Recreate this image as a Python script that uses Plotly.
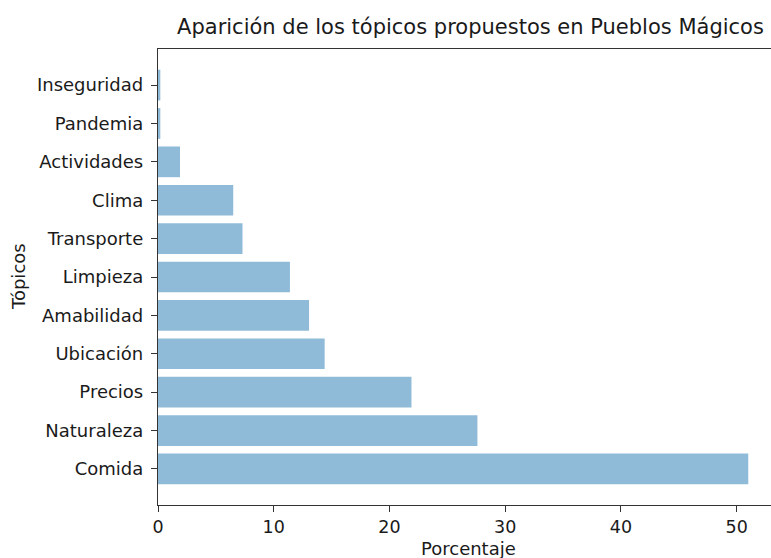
import plotly.graph_objects as go

topicos = ["Comida", "Naturaleza", "Precios", "Ubicación", "Amabilidad", "Limpieza",
           "Transporte", "Clima", "Actividades", "Pandemia", "Inseguridad"]
porcentaje = [51.0, 27.6, 21.9, 14.4, 13.05, 11.4, 7.3, 6.5, 1.9, 0.2, 0.2]
x_ticks = [0, 10, 20, 30, 40, 50]

W, H = 771, 558
L, R, T, B = 158, 0, 49, 53
FONT = "DejaVu Sans, Liberation Sans, sans-serif"

fig = go.Figure(go.Bar(
    x=porcentaje, y=topicos, orientation="h",
    marker=dict(color="rgba(31,119,180,0.5)", line=dict(width=0)),
    width=0.8,
))

fig.update_layout(
    width=W, height=H,
    margin=dict(l=L, r=R, t=T, b=B, pad=0),
    plot_bgcolor="white", paper_bgcolor="white",
    showlegend=False,
    font=dict(family=FONT, size=18, color="#1a1a1a"),
    title=dict(
        text="Aparición de los tópicos propuestos en Pueblos Mágicos",
        x=470.5 / W, xref="container", xanchor="center",
        y=1 - 27 / H, yref="container", yanchor="middle",
        font=dict(family=FONT, size=21, color="#1a1a1a"),
    ),
    xaxis=dict(
        range=[0, (W - L) / 11.574],
        tickmode="array", tickvals=x_ticks,
        ticks="outside", ticklen=6, tickwidth=1.2, tickcolor="#333",
        showline=True, linecolor="#333", linewidth=1.3, mirror=True,
        showgrid=False, zeroline=False,
        tickfont=dict(size=17.5),
    ),
    yaxis=dict(
        type="category",
        categoryorder="array", categoryarray=topicos,
        range=[-0.94, 10.94],
        ticks="outside", ticklen=6, tickwidth=1.2, tickcolor="#333",
        ticklabelstandoff=4,
        showline=True, linecolor="#333", linewidth=1.3,
        showgrid=False, zeroline=False,
        tickfont=dict(size=18),
    ),
    annotations=[
        dict(text="Porcentaje", xref="paper", yref="paper",
             x=(468 - L) / (W - L), y=(505 - 548) / (505 - 49),
             xanchor="center", yanchor="middle", showarrow=False,
             font=dict(size=18)),
        dict(text="Tópicos", xref="paper", yref="paper",
             x=(18 - L) / (W - L), y=0.5, textangle=-90,
             xanchor="center", yanchor="middle", showarrow=False,
             font=dict(size=18)),
    ],
)

fig.write_html(
    "out.html",
    config={"displayModeBar": False},
    post_script="document.body.style.margin='0';document.body.style.overflow='hidden';",
)
